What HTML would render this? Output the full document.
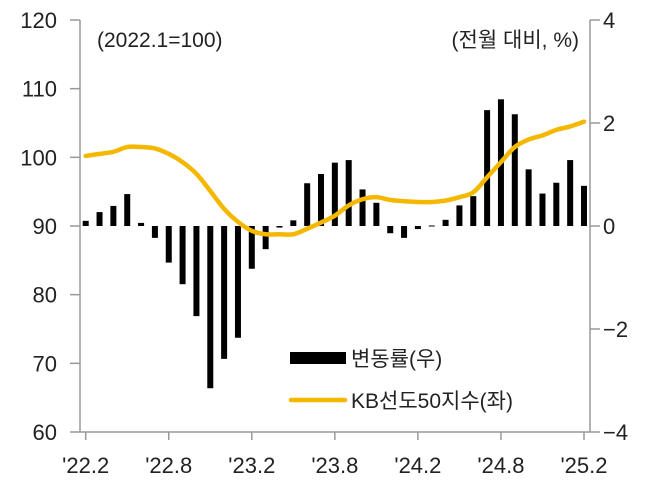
<!DOCTYPE html>
<html><head><meta charset="utf-8"><style>
body{margin:0;background:#fff}
svg{display:block;font-family:"Liberation Sans","Noto Sans CJK KR",sans-serif}
</style></head><body>
<svg id="c" width="657" height="490"></svg>
<script>
const months=["'22.2","'22.3","'22.4","'22.5","'22.6","'22.7","'22.8","'22.9","'22.10","'22.11","'22.12","'23.1","'23.2","'23.3","'23.4","'23.5","'23.6","'23.7","'23.8","'23.9","'23.10","'23.11","'23.12","'24.1","'24.2","'24.3","'24.4","'24.5","'24.6","'24.7","'24.8","'24.9","'24.10","'24.11","'24.12","'25.1","'25.2"];
const changeRate=[0.1,0.27,0.39,0.62,0.06,-0.23,-0.71,-1.13,-1.75,-3.15,-2.58,-2.17,-0.83,-0.45,-0.03,0.11,0.83,1.01,1.23,1.28,0.71,0.45,-0.14,-0.23,-0.06,0.01,0.12,0.40,0.58,2.25,2.46,2.17,1.1,0.63,0.84,1.28,0.78];
const indexValues=[100.2,100.5,100.8,101.5,101.5,101.3,100.5,99.3,97.6,95.1,92.5,90.6,89.3,88.8,88.8,88.8,89.6,90.5,91.5,93.0,93.9,94.2,93.8,93.6,93.5,93.5,93.7,94.2,94.9,97.1,99.3,101.5,102.6,103.2,104.0,104.5,105.2];
const leftTicks=[60,70,80,90,100,110,120];
const rightTicks=[-4,-2,0,2,4];
const xTickLabels=["'22.2","'22.8","'23.2","'23.8","'24.2","'24.8","'25.2"];
const NS="http://www.w3.org/2000/svg",svg=document.getElementById('c');
const X0=80,X1=590,Y0=20,Y1=432;
const xs=i=>85.7+i*(584-85.7)/36;
const yl=v=>Y1-(v-60)/60*(Y1-Y0);
const yr=v=>Y1-(v+4)/8*(Y1-Y0);
function el(t,a,txt){const e=document.createElementNS(NS,t);for(const k in a)e.setAttribute(k,a[k]);if(txt!=null)e.textContent=txt;svg.appendChild(e);return e;}
let e;
e=el('line',{x1:X0,x2:X0,y1:Y0,y2:Y1,stroke:'#999','stroke-width':1.5});

e=el('line',{x1:X1,x2:X1,y1:Y0,y2:Y1,stroke:'#999','stroke-width':1.5});

e=el('line',{x1:X0,x2:X1,y1:Y1,y2:Y1,stroke:'#999','stroke-width':1.5});

leftTicks.forEach(v=>{
 el('line',{x1:X0-10,x2:X0,y1:yl(v),y2:yl(v),stroke:'#999','stroke-width':1.5});
 e=el('text',{x:57,y:yl(v)+8,'text-anchor':'end','font-size':22,fill:'#222'},v);
 
});
rightTicks.forEach(v=>{
 el('line',{x1:X1,x2:X1+10,y1:yr(v),y2:yr(v),stroke:'#999','stroke-width':1.5});
 e=el('text',{x:603,y:yr(v)+8,'font-size':22,fill:'#222'},v<0?'\u2212'+(-v):v);
 
});
xTickLabels.forEach(l=>{
 const i=months.indexOf(l),x=xs(i);
 el('line',{x1:x,x2:x,y1:Y1,y2:Y1+8,stroke:'#999','stroke-width':1.5});
 e=el('text',{x:x,y:473,'text-anchor':'middle','font-size':22,fill:'#222'},l);
 
});
changeRate.forEach((v,i)=>{
 const y0=yr(0),y=yr(v);
 e=el('rect',{x:xs(i)-3,y:Math.min(y0,y),width:6,height:Math.max(1,Math.abs(y-y0)),fill:'#000'});
 
});
const pts=indexValues.map((v,i)=>[xs(i),yl(v)]);
let d='M'+pts[0][0]+','+pts[0][1];
for(let i=0;i<pts.length-1;i++){
 const p0=pts[Math.max(0,i-1)],p1=pts[i],p2=pts[i+1],p3=pts[Math.min(pts.length-1,i+2)];
 const c1=[p1[0]+(p2[0]-p0[0])/6,p1[1]+(p2[1]-p0[1])/6],c2=[p2[0]-(p3[0]-p1[0])/6,p2[1]-(p3[1]-p1[1])/6];
 d+=' C'+c1+' '+c2+' '+p2;
}
e=el('path',{d:d,fill:'none',stroke:'#f5b800','stroke-width':4.5,'stroke-linejoin':'round','stroke-linecap':'round'});

e=el('text',{x:97,y:47,'font-size':21,fill:'#222'},'(2022.1=100)');

e=el('text',{x:579,y:47,'text-anchor':'end','font-size':21,fill:'#222'},'(전월 대비, %)');

e=el('rect',{x:290,y:352,width:56,height:12,fill:'#000'});

e=el('text',{x:351,y:366,'font-size':21,fill:'#222'},'변동률(우)');

e=el('line',{x1:291,x2:345,y1:400,y2:400,stroke:'#f5b800','stroke-width':4.5,'stroke-linecap':'round'});

e=el('text',{x:351,y:408,'font-size':21,fill:'#222'},'KB선도50지수(좌)');

</script>
</body></html>
